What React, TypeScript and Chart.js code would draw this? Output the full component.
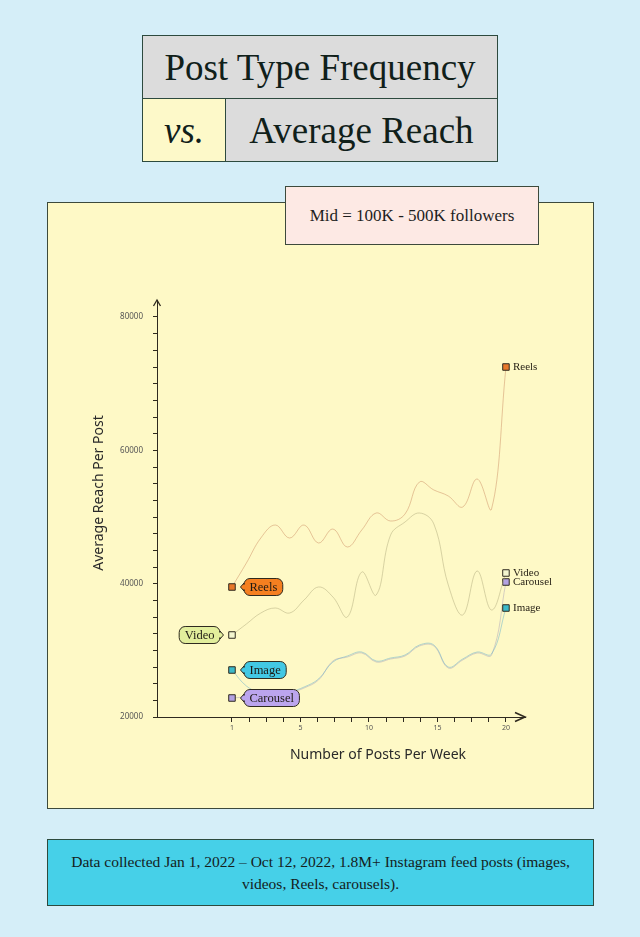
import React, { useEffect, useRef } from "react";
import { Chart, registerables } from "chart.js";
Chart.register(...registerables);

// ---- data ----
const postsPerWeek = [1, 2, 3, 4, 5, 6, 7, 8, 9, 10, 11, 12, 13, 14, 15, 16, 17, 18, 19, 20];
const reelsReach = [39500, 43100, 46850, 48800, 46850, 48800, 46100, 48200, 45500, 48050, 50600, 49400, 50450, 55250, 54050, 53150, 51500, 55700, 51200, 72500];
const videoReach = [32300, 33950, 35600, 36350, 35600, 37550, 39500, 38000, 35000, 41750, 38300, 47300, 49250, 50600, 48950, 39800, 35300, 41900, 36050, 41600];
const imageReach = [27050, 24650, 23600, 23450, 23750, 24500, 25700, 28250, 29150, 29750, 28400, 28850, 29300, 30800, 30800, 27500, 28700, 29750, 29450, 36350];
const carouselReach = [22850, 23000, 23150, 23300, 23600, 24350, 25550, 28400, 29000, 29600, 28250, 28700, 29150, 30650, 30650, 27350, 28550, 29600, 29300, 40250];
const seriesNames = ["Reels", "Video", "Image", "Carousel"];
const xTickLabels = ["1", "", "", "", "5", "", "", "", "10", "", "", "", "15", "", "", "", "20"];
const yTickMin = 20000;
const yTickMax = 80000;
const yTickStep = 2500;
const yLabelStep = 20000;

// ---- styles ----
const lineColors = ["rgba(205,140,100,0.55)", "rgba(175,170,125,0.55)", "rgba(100,175,205,0.55)", "rgba(165,155,185,0.5)"];
const markerColors = ["#e8782a", "#f3f5cf", "#3cb9c9", "#b3a2e2"];
const tagColors = ["#f57f20", "#e2ee9c", "#42c8e4", "#bba5ee"];
const tagSides = [1, -1, 1, 1];
const INK = "#2f2a1f";

const serif = '"Liberation Serif", "DejaVu Serif", serif';
const sans = '"Noto Sans", "Open Sans", sans-serif';

const decorPlugin = {
  id: "decor",
  afterDraw(chart: any) {
    const ctx = chart.ctx as CanvasRenderingContext2D;
    const { left, right, top, bottom } = chart.chartArea;
    ctx.save();
    ctx.strokeStyle = INK;
    ctx.lineWidth = 1.3;
    ctx.beginPath();
    ctx.moveTo(left - 3.5, top + 6);
    ctx.lineTo(left, top);
    ctx.lineTo(left + 3.5, top + 6);
    ctx.stroke();
    ctx.lineWidth = 1.6;
    ctx.beginPath();
    ctx.moveTo(right - 10, bottom - 4.5);
    ctx.lineTo(right, bottom);
    ctx.lineTo(right - 10, bottom + 4.5);
    ctx.stroke();

    // axis titles
    ctx.fillStyle = "#2a2a2a";
    ctx.font = `14px ${sans}`;
    ctx.textAlign = "center";
    ctx.textBaseline = "middle";
    ctx.fillText("Number of Posts Per Week", 331, 553);
    ctx.save();
    ctx.translate(52, 291);
    ctx.rotate(-Math.PI / 2);
    ctx.fillText("Average Reach Per Post", 0, 0);
    ctx.restore();

    // series labels
    chart.data.datasets.forEach((ds: any, i: number) => {
      const meta = chart.getDatasetMeta(i);
      const first = meta.data[0];
      const last = meta.data[meta.data.length - 1];
      ctx.font = `12.5px ${serif}`;
      const tw = ctx.measureText(ds.label).width;
      const w = tw + 11;
      const h = 17;
      const r = 6;
      const dir = tagSides[i];
      const y = first.y;
      const tipX = first.x + dir * 8.5;
      const nearX = first.x + dir * 12;
      const farX = nearX + dir * w;
      const l = Math.min(nearX, farX);
      const rr = Math.max(nearX, farX);
      const t = y - h / 2;
      const b = y + h / 2;
      ctx.beginPath();
      if (dir === 1) {
        ctx.moveTo(tipX, y);
        ctx.lineTo(l, y - 4);
        ctx.lineTo(l, t + r);
        ctx.arcTo(l, t, l + r, t, r);
        ctx.lineTo(rr - r, t);
        ctx.arcTo(rr, t, rr, t + r, r);
        ctx.lineTo(rr, b - r);
        ctx.arcTo(rr, b, rr - r, b, r);
        ctx.lineTo(l + r, b);
        ctx.arcTo(l, b, l, b - r, r);
        ctx.lineTo(l, y + 4);
      } else {
        ctx.moveTo(tipX, y);
        ctx.lineTo(rr, y + 4);
        ctx.lineTo(rr, b - r);
        ctx.arcTo(rr, b, rr - r, b, r);
        ctx.lineTo(l + r, b);
        ctx.arcTo(l, b, l, b - r, r);
        ctx.lineTo(l, t + r);
        ctx.arcTo(l, t, l + r, t, r);
        ctx.lineTo(rr - r, t);
        ctx.arcTo(rr, t, rr, t + r, r);
        ctx.lineTo(rr, y - 4);
      }
      ctx.closePath();
      ctx.fillStyle = tagColors[i];
      ctx.fill();
      ctx.strokeStyle = INK;
      ctx.lineWidth = 1;
      ctx.stroke();
      ctx.fillStyle = "#1e1a14";
      ctx.textAlign = "center";
      ctx.textBaseline = "middle";
      ctx.fillText(ds.label, (l + rr) / 2, y + 0.5);

      // end label
      ctx.font = `11px ${serif}`;
      ctx.textAlign = "left";
      ctx.fillStyle = "#2a2418";
      ctx.fillText(ds.label, last.x + 7, last.y);
    });
    ctx.restore();
  },
};

export default function App() {
  const ref = useRef<HTMLCanvasElement | null>(null);
  useEffect(() => {
    if (!ref.current) return;
    const series = [reelsReach, videoReach, imageReach, carouselReach];
    const chart = new Chart(ref.current, {
      type: "line",
      data: {
        datasets: series.map((vals, i) => ({
          label: seriesNames[i],
          data: vals.map((v, j) => ({ x: postsPerWeek[j], y: v })),
          borderColor: lineColors[i],
          borderWidth: 0.9,
          tension: 0.4,
          fill: false,
          pointStyle: "rect",
          pointRadius: (c: any) => (c.dataIndex === 0 || c.dataIndex === vals.length - 1 ? 4.6 : 0),
          pointHoverRadius: 0,
          pointBackgroundColor: markerColors[i],
          pointBorderColor: INK,
          pointBorderWidth: 1,
        })),
      },
      options: {
        animation: false,
        responsive: false,
        events: [],
        layout: { padding: { top: 98, right: 69, left: 0, bottom: 0 } },
        plugins: { legend: { display: false }, tooltip: { enabled: false } },
        scales: {
          x: {
            type: "linear",
            min: -4.2,
            max: 21.32,
            afterBuildTicks: (scale: any) => {
              const a = postsPerWeek[0];
              const z = postsPerWeek[postsPerWeek.length - 1];
              const n = xTickLabels.length - 1;
              scale.ticks = xTickLabels.map((_, k) => ({ value: a + ((z - a) * k) / n }));
            },
            afterFit: (scale: any) => {
              scale.height = 92;
            },
            ticks: {
              autoSkip: false,
              maxRotation: 0,
              padding: 2,
              color: "#555",
              font: { size: 7, family: sans },
              callback: (_v: any, idx: number) => xTickLabels[idx],
            },
            grid: { drawOnChartArea: false, drawTicks: true, tickLength: 5, color: INK, lineWidth: 1 },
            border: { display: true, color: INK, width: 1 },
          },
          y: {
            type: "linear",
            min: 20000,
            max: 82550,
            afterBuildTicks: (scale: any) => {
              const t: any[] = [];
              for (let v = yTickMin; v <= yTickMax; v += yTickStep) t.push({ value: v });
              scale.ticks = t;
            },
            afterFit: (scale: any) => {
              scale.width = 110;
            },
            ticks: {
              autoSkip: false,
              padding: 10,
              color: "#555",
              font: { size: 8, family: sans },
              callback: (v: any) => (Number(v) % yLabelStep === 0 ? String(v) : ""),
            },
            grid: { drawOnChartArea: false, drawTicks: true, tickLength: 4, color: INK, lineWidth: 1 },
            border: { display: true, color: INK, width: 1 },
          },
        },
      },
      plugins: [decorPlugin],
    } as any);
    return () => chart.destroy();
  }, []);

  const border = "1.5px solid #2d4a3e";
  return (
    <div style={{ position: "absolute", left: 0, top: 0, width: 640, height: 937, background: "#d5eef8", overflow: "hidden", fontFamily: serif }}>
      <div style={{ position: "absolute", left: 142, top: 35, width: 356, height: 127, border, boxSizing: "border-box", background: "#dcdcdc" }}>
        <div style={{ height: 62, borderBottom: border, display: "flex", alignItems: "center", justifyContent: "center", fontSize: 37, color: "#10201a" }}>
          Post Type Frequency
        </div>
        <div style={{ display: "flex", height: 62 }}>
          <div style={{ width: 82, background: "#fdf9c9", borderRight: border, display: "flex", alignItems: "center", justifyContent: "center", fontSize: 37, fontStyle: "italic", color: "#10201a" }}>
            vs.
          </div>
          <div style={{ flex: 1, display: "flex", alignItems: "center", justifyContent: "center", fontSize: 37, color: "#10201a" }}>
            Average Reach
          </div>
        </div>
      </div>
      <div style={{ position: "absolute", left: 47, top: 202, width: 547, height: 607, background: "#fef9c6", border: "1px solid #3d4a3c", boxSizing: "border-box" }} />
      <canvas ref={ref} width={547} height={607} style={{ position: "absolute", left: 47, top: 202, width: 547, height: 607 }} />
      <div style={{ position: "absolute", left: 285, top: 186, width: 254, height: 59, background: "#fde9e4", border: "1px solid #3d4a3c", boxSizing: "border-box", display: "flex", alignItems: "center", justifyContent: "center", fontSize: 17, color: "#1e1e1e" }}>
        Mid = 100K - 500K followers
      </div>
      <div style={{ position: "absolute", left: 47, top: 839, width: 547, height: 67, background: "#46d0e8", border: "1.5px solid #2d4a3e", boxSizing: "border-box", display: "flex", alignItems: "center", justifyContent: "center", textAlign: "center", fontSize: 15.5, lineHeight: "22px", color: "#14211c" }}>
        <div>
          Data collected Jan 1, 2022 – Oct 12, 2022, 1.8M+ Instagram feed posts (images,
          <br />
          videos, Reels, carousels).
        </div>
      </div>
    </div>
  );
}
